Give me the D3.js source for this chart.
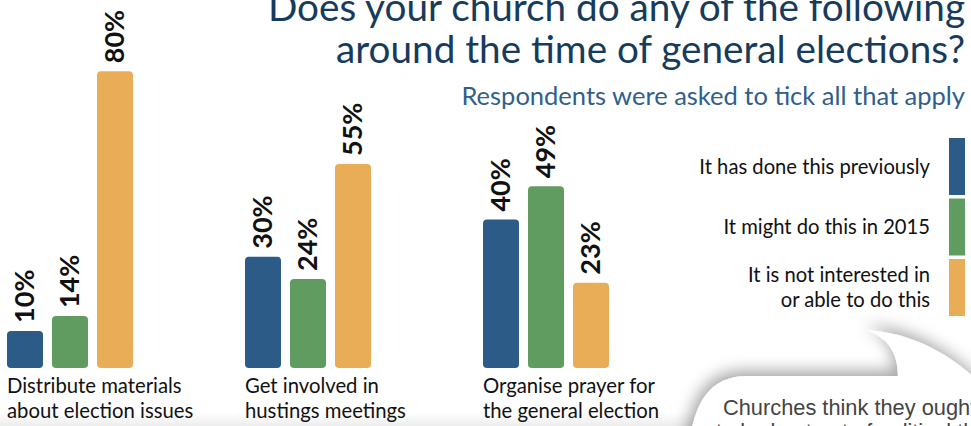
<!DOCTYPE html>
<html>
<head>
<meta charset="utf-8">
<script src="https://cdn.jsdelivr.net/npm/d3@7"></script>
<style>
  html, body { margin: 0; padding: 0; background: #fff; overflow: hidden; }
  svg { display: block; }
</style>
</head>
<body>
<svg id="chart" width="971" height="426"></svg>
<script>
// Survey answers, percent of churches per activity
const categories = [
  ["Distribute materials", "about election issues"],
  ["Get involved in", "hustings meetings"],
  ["Organise prayer for", "the general election"]
];
const seriesNames = [
  ["It has done this previously"],
  ["It might do this in 2015"],
  ["It is not interested in", "or able to do this"]
];
const doneBefore    = [10, 30, 40];
const mightDo2015   = [14, 24, 49];
const notInterested = [80, 55, 23];
const seriesValues  = [doneBefore, mightDo2015, notInterested];
const seriesColors  = ["#2b5b86", "#609b60", "#e9ad58"];

const titleLines = ["Does your church do any of the following", "around the time of general elections?"];
const subtitle = "Respondents were asked to tick all that apply";
const quoteLines = ["Churches think they ought", "to be kept out of political things"];

const FONT = "Lato, 'Open Sans', sans-serif";
const svg = d3.select("#chart");

// ---- defs: bubble shadow ----
const defs = svg.append("defs");
const sh = defs.append("filter").attr("id", "bubbleShadow")
  .attr("x", "-20%").attr("y", "-40%").attr("width", "140%").attr("height", "180%");
sh.append("feDropShadow").attr("dx", -3).attr("dy", -5).attr("stdDeviation", 8)
  .attr("flood-color", "#000").attr("flood-opacity", 0.36);

const haze = defs.append("linearGradient").attr("id", "bottomHaze")
  .attr("x1", 0).attr("y1", 0).attr("x2", 0).attr("y2", 1);
haze.append("stop").attr("offset", "0%").attr("stop-color", "#000").attr("stop-opacity", 0);
haze.append("stop").attr("offset", "100%").attr("stop-color", "#000").attr("stop-opacity", 0.07);

svg.append("rect").attr("x", 0).attr("y", 412).attr("width", 700).attr("height", 14)
  .attr("fill", "url(#bottomHaze)");

// ---- scales ----
const keys = seriesNames.map((d, i) => i);
const x0 = d3.scaleBand().domain(d3.range(categories.length))
  .range([7, 609]).paddingInner(112 / 238).paddingOuter(0);
const x1 = d3.scaleBand().domain(keys)
  .range([0, x0.bandwidth()]).paddingInner(0.2).paddingOuter(0);
const y = d3.scaleLinear().domain([0, 100]).range([368, -3]);

// ---- bars ----
const groups = svg.append("g").selectAll("g")
  .data(categories).join("g")
  .attr("transform", (d, i) => `translate(${x0(i)},0)`);

groups.each(function(cat, ci) {
  const g = d3.select(this);
  const rows = keys.map(k => ({ k, v: seriesValues[k][ci] }));
  g.selectAll("rect").data(rows).join("rect")
    .attr("x", d => x1(d.k))
    .attr("y", d => y(d.v))
    .attr("width", x1.bandwidth())
    .attr("height", d => y(0) - y(d.v))
    .attr("rx", 4).attr("ry", 4)
    .attr("fill", d => seriesColors[d.k]);

  g.selectAll("text.val").data(rows).join("text")
    .attr("class", "val")
    .attr("transform", d => `translate(${x1(d.k) + x1.bandwidth() / 2 + 9},${y(d.v) - 8}) rotate(-90)`)
    .attr("font-family", FONT).attr("font-weight", 700).attr("font-size", 27)
    .attr("fill", "#111")
    .text(d => d.v + "%");

  const lbl = g.append("text")
    .attr("font-family", FONT).attr("font-size", 20.3).attr("fill", "#111");
  lbl.selectAll("tspan").data(cat).join("tspan")
    .attr("x", 0).attr("y", (d, i) => 393 + i * 25)
    .text(d => d);
});

// ---- title & subtitle ----
svg.append("g").selectAll("text").data(titleLines).join("text")
  .attr("x", 965).attr("y", (d, i) => 21 + i * 42)
  .attr("text-anchor", "end")
  .attr("font-family", FONT).attr("font-size", 38.7).attr("fill", "#173b5c")
  .text(d => d);

svg.append("text")
  .attr("x", 965).attr("y", 105)
  .attr("text-anchor", "end")
  .attr("font-family", FONT).attr("font-size", 25.5).attr("fill", "#2f5f8c")
  .text(subtitle);

// ---- legend ----
const legendTop = 138, legendStep = 60.5, swH = 57;
const leg = svg.append("g").selectAll("g").data(seriesNames).join("g")
  .attr("transform", (d, i) => `translate(0,${legendTop + i * legendStep})`);
leg.append("rect").attr("x", 949).attr("y", 0).attr("width", 16).attr("height", swH)
  .attr("fill", (d, i) => seriesColors[i]);
leg.append("text")
  .attr("font-family", FONT).attr("font-size", 20.2).attr("fill", "#111")
  .attr("text-anchor", "end")
  .each(function(lines) {
    const t = d3.select(this);
    const lh = 25;
    const first = swH / 2 + 7 - (lines.length - 1) * lh / 2;
    t.selectAll("tspan").data(lines).join("tspan")
      .attr("x", 930).attr("y", (d, i) => first + i * lh)
      .text(d => d);
  });

// ---- speech bubble ----
svg.append("path")
  .attr("d", "M 688 450 C 694 404, 708 376, 748 376 L 898 376 C 898 354, 889 338, 866 330 C 912 333, 950 352, 990 392 L 990 450 Z")
  .attr("fill", "#fff")
  .attr("filter", "url(#bubbleShadow)");

svg.append("g").selectAll("text").data(quoteLines).join("text")
  .attr("x", (d, i) => i === 0 ? 723 : 716)
  .attr("y", (d, i) => 415 + i * 24)
  .attr("font-family", "'Liberation Sans', Arial, sans-serif")
  .attr("font-size", 21.8).attr("fill", "#444")
  .text(d => d);
</script>
</body>
</html>
